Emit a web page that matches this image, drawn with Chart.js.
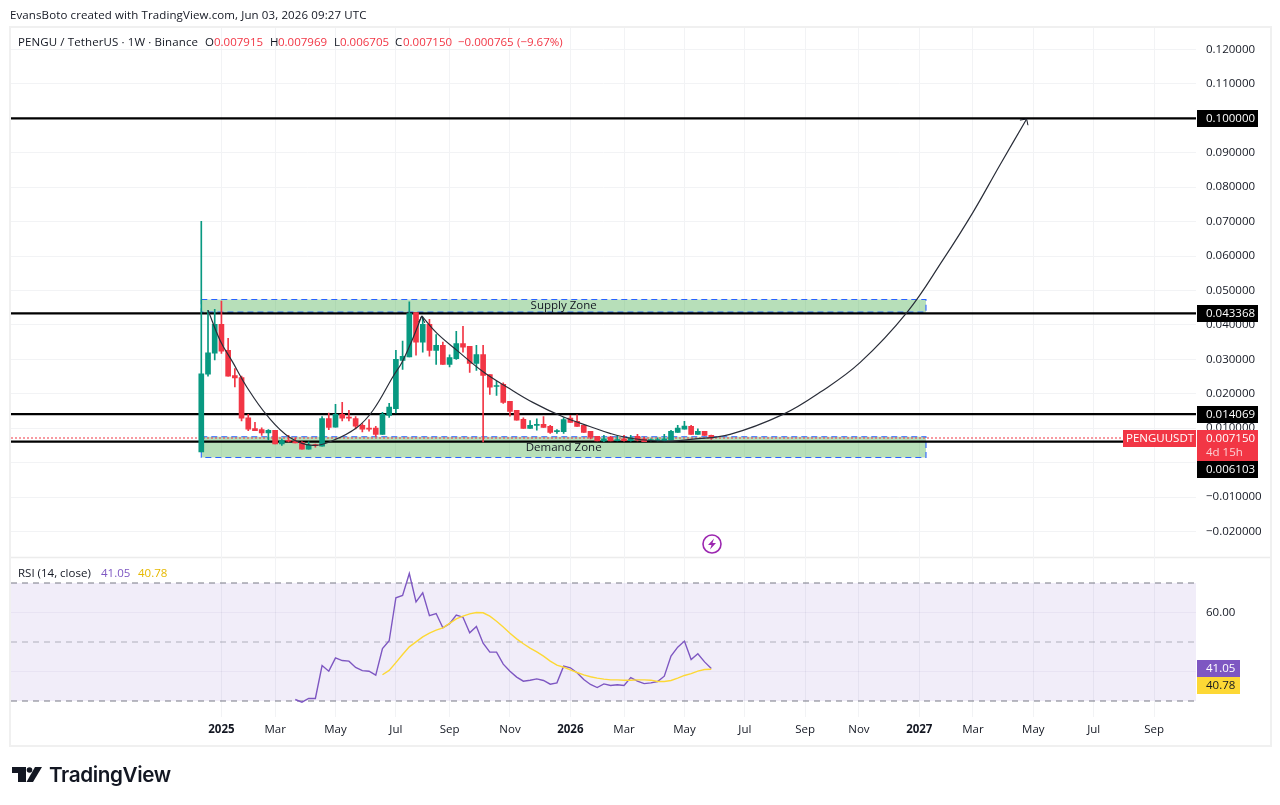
<!DOCTYPE html>
<html>
<head>
<meta charset="utf-8">
<title>PENGU / TetherUS</title>
<script src="https://cdn.jsdelivr.net/npm/chart.js@4/dist/chart.umd.min.js"></script>
<style>
  html, body { margin: 0; padding: 0; background: #fff; overflow: hidden; }
  body { width: 1280px; height: 805px; position: relative; font-family: "Open Sans", sans-serif; color: #131722; }
  canvas { position: absolute; left: 0; top: 0; }
  #frame { position: absolute; left: 9px; top: 26px; width: 1259px; height: 717px; border: 2px solid #f0f0f0; pointer-events: none; }
  .t { position: absolute; white-space: nowrap; font-size: 11.5px; line-height: 14px; }
  .wide { letter-spacing: 0.11px; }
  .red { color: #f23645; }
  #logoText { position: absolute; left: 49px; top: 761px; font-family: Inter, sans-serif; font-weight: 600; font-size: 20.7px; line-height: 28px; color: #131722; letter-spacing: -0.4px; }
</style>
</head>
<body>
<canvas id="chart" width="1280" height="805"></canvas>
<div id="frame"></div>
<div class="t wide" style="left:10px;top:8px">EvansBoto created with TradingView.com, Jun 03, 2026 09:27 UTC</div>
<div class="t wide" style="left:18px;top:35px">PENGU / TetherUS · 1W · Binance</div>
<div class="t" style="left:205px;top:35px">O</div><div class="t red" style="left:214px;top:35px">0.007915</div>
<div class="t" style="left:270px;top:35px">H</div><div class="t red" style="left:278px;top:35px">0.007969</div>
<div class="t" style="left:334px;top:35px">L</div><div class="t red" style="left:340px;top:35px">0.006705</div>
<div class="t" style="left:395px;top:35px">C</div><div class="t red" style="left:403px;top:35px">0.007150</div>
<div class="t red" style="left:458px;top:35px">−0.000765</div>
<div class="t red" style="left:517px;top:35px">(−9.67%)</div>
<div class="t" style="left:18px;top:566px">RSI (14, close)</div>
<div class="t" style="left:101px;top:566px;color:#7e57c2">41.05</div>
<div class="t" style="left:138px;top:566px;color:#e6b800">40.78</div>
<svg style="position:absolute;left:701px;top:533px" width="22" height="22" viewBox="0 0 22 22">
  <circle cx="11" cy="11" r="9" fill="none" stroke="#9c27b0" stroke-width="1.6"/>
  <path d="M13 5.5 L7 12 H10.5 L9 16.5 L15 10 H11.5 Z" fill="#9c27b0"/>
</svg>
<svg style="position:absolute;left:12px;top:767px" width="31" height="15" viewBox="0 0 31 15">
  <path d="M0 0 H14 V15 H6 V6 H0 Z" fill="#131722"/>
  <circle cx="17.5" cy="3" r="2.8" fill="#131722"/>
  <path d="M23 0 H30 L21 15 H14.5 Z" fill="#131722"/>
</svg>
<div id="logoText">TradingView</div>
<script>
const uiFont = '"Open Sans", sans-serif';
const green = '#089981';
const red = '#f23645';

const opens = [0.0031,0.0257,0.0318,0.0402,0.0326,0.0253,0.0247,0.0130,0.0099,0.0096,0.0086,0.0094,0.0054,0.0064,0.0061,0.0059,0.0039,0.0052,0.0048,0.0128,
  0.0103,0.0140,0.0132,0.0128,0.0108,0.0100,0.0100,0.0082,0.0137,0.0157,0.0297,0.0307,0.0436,0.0350,0.0402,0.0326,0.0341,0.0285,0.0302,0.0346,
  0.0338,0.0288,0.0314,0.0256,0.0221,0.0227,0.0178,0.0152,0.0126,0.0099,0.0108,0.0111,0.0105,0.0090,0.0090,0.0129,0.0120,0.0108,0.0091,0.0076,
  0.0063,0.0074,0.0064,0.0069,0.0064,0.0076,0.0069,0.0064,0.0064,0.0064,0.0066,0.0088,0.0097,0.0105,0.0082,0.0091,0.007915];
const highs = [0.0701,0.0442,0.0445,0.0469,0.0361,0.0273,0.0251,0.0140,0.0117,0.0101,0.0096,0.0094,0.0069,0.0079,0.0072,0.0061,0.0060,0.0054,0.0134,0.0144,
  0.0169,0.0175,0.0152,0.0134,0.0113,0.0125,0.0105,0.0146,0.0172,0.0326,0.0353,0.0467,0.0436,0.0423,0.0416,0.0372,0.0350,0.0313,0.0381,0.0396,
  0.0338,0.0341,0.0341,0.0256,0.0236,0.0232,0.0178,0.0152,0.0130,0.0122,0.0127,0.0134,0.0108,0.0096,0.0131,0.0137,0.0139,0.0108,0.0091,0.0076,
  0.0079,0.0076,0.0077,0.0079,0.0079,0.0082,0.0074,0.0069,0.0072,0.0082,0.0094,0.0108,0.0120,0.0108,0.0098,0.0091,0.007969];
const lows = [0.0031,0.0251,0.0298,0.0317,0.0251,0.0220,0.0121,0.0093,0.0093,0.0079,0.0066,0.0054,0.0050,0.0060,0.0057,0.0039,0.0039,0.0045,0.0048,0.0096,
  0.0103,0.0121,0.0121,0.0098,0.0089,0.0091,0.0076,0.0082,0.0131,0.0144,0.0271,0.0307,0.0312,0.0321,0.0309,0.0285,0.0285,0.0278,0.0300,0.0321,
  0.0262,0.0268,0.0060,0.0198,0.0195,0.0172,0.0135,0.0123,0.0099,0.0099,0.0094,0.0102,0.0085,0.0085,0.0085,0.0117,0.0105,0.0088,0.0069,0.0063,
  0.0061,0.0063,0.0063,0.0062,0.0062,0.0063,0.0061,0.0063,0.0063,0.0063,0.0066,0.0088,0.0097,0.0082,0.0082,0.0079,0.006705];
const closes = [0.0258,0.0319,0.0402,0.0324,0.0251,0.0246,0.0129,0.0097,0.0093,0.0086,0.0094,0.0054,0.0064,0.0062,0.0057,0.0039,0.0050,0.0049,0.0128,0.0102,
  0.0140,0.0129,0.0129,0.0106,0.0097,0.0097,0.0082,0.0140,0.0161,0.0300,0.0309,0.0433,0.0350,0.0402,0.0326,0.0341,0.0285,0.0305,0.0346,0.0335,
  0.0288,0.0314,0.0253,0.0219,0.0224,0.0175,0.0149,0.0123,0.0099,0.0108,0.0111,0.0102,0.0088,0.0093,0.0125,0.0117,0.0105,0.0088,0.0074,0.0063,
  0.0069,0.0063,0.0067,0.0064,0.0072,0.0066,0.0061,0.0066,0.0066,0.0069,0.0091,0.0100,0.0106,0.0082,0.0091,0.0079,0.00715];

const rsiStart = 14;
const rsiValues = [30.5,29.6,30.85,30.85,42.0,40.1,44.6,43.7,43.5,41.35,40.3,40.1,38.75,47.8,50.4,65.0,65.75,73.2,63.6,66.65,
  58.9,59.65,54.8,56.2,59.1,58.4,53.1,55.25,49.6,46.55,46.55,42.5,40.1,38.1,36.7,37.05,37.5,36.95,35.7,36.15,
  41.8,41.25,39.55,37.3,35.6,34.55,35.8,35.25,35.5,35.25,37.95,36.7,35.9,36.15,36.6,38.4,45.2,48.25,50.3,44.05,46,43.25,41.05];
const maStart = 27;
const maValues = [38.9,40.35,43.0,45.75,48.35,50.05,51.75,53,54,54.8,56.3,57.85,58.75,59.55,60,59.9,58.75,57.05,55.1,52.95,
  51.05,49.4,47.9,46.65,45.2,43.5,42.15,41.45,40.55,39.65,38.85,38.2,37.75,37.4,37.15,37.15,37.05,37.05,37.15,37.15,
  37.05,36.6,36.6,36.95,37.75,38.65,39.3,40.1,40.65,40.78];

const cupWeeks = [1.0,2.8,4.7,6.8,9.8,13.2,16.6,19.6,23.2,25.6,28.6,29.9,31.4,32.85];
const cupPrices = [0.0443,0.0355,0.0291,0.0219,0.0137,0.0073,0.0050,0.0064,0.0102,0.0152,0.0251,0.0291,0.0355,0.0426];
const arcWeeks = [32.85,35.1,38.1,42.0,45.6,49.4,53.9,57.9,60.9,64.3,69.4,73.3,78.8,86.7,92.2,98.2,105.2,110.5,115,119,123];
const arcPrices = [0.0426,0.0376,0.0326,0.0264,0.0219,0.0175,0.0133,0.0105,0.0085,0.0070,0.0062,0.0068,0.0082,0.0140,0.0204,0.0291,0.0437,0.0588,0.0727,0.0864,0.0998];
const headOneWeeks = [32.4,32.85,33.3];
const headOnePrices = [0.0408,0.0426,0.0406];
const headTwoWeeks = [122,123,123.2];
const headTwoPrices = [0.0995,0.0998,0.0980];

const levels = [0.1,0.043368,0.014069,0.006103];
const lastPrice = 0.00715;
const supplyZone = [0.0474,0.0437];
const demandZone = [0.0075,0.0015];
const zoneWeeks = [0,108];
const labelWeek = 54;

const priceTicks = [-0.02,-0.01,0,0.01,0.02,0.03,0.04,0.05,0.06,0.07,0.08,0.09,0.1,0.11,0.12];
const rsiTicks = [40,60];
const rsiBands = [70,50,30];
const timeWeeks = [3,11,20,29,37,46,55,63,72,81,90,98,107,115,124,133,142];
const timeLabels = ['2025','Mar','May','Jul','Sep','Nov','2026','Mar','May','Jul','Sep','Nov','2027','Mar','May','Jul','Sep'];
const weekMin = -28.36;
const weekMax = 148.24;

function pts(xs, ys) {
  return xs.map((x, i) => ({x: x, y: ys[i]}));
}

function lineSet(data, axis, color, width, order, extra) {
  return Object.assign({
    type: 'line',
    data: data,
    yAxisID: axis,
    borderColor: color,
    borderWidth: width,
    pointRadius: 0,
    fill: false,
    order: order
  }, extra || {});
}

function zoneSets(zone) {
  const [top, bottom] = zone;
  const [a, b] = zoneWeeks;
  const fillColor = 'rgba(76,175,80,0.4)';
  return [
    lineSet(pts(zoneWeeks, [top, top]), 'y', 'transparent', 0, 8, {fill: '+1', backgroundColor: fillColor}),
    lineSet(pts(zoneWeeks, [bottom, bottom]), 'y', 'transparent', 0, 8),
    lineSet(pts([a, b, b, a, a], [top, top, bottom, bottom, top]), 'y', '#2962ff', 1.1, 7, {borderDash: [6, 4]})
  ];
}

const weekIndex = opens.map((_, i) => i);
const wickData = weekIndex.map(i => ({x: i, y: [lows[i], highs[i]]}));
const bodyData = weekIndex.map(i => ({x: i, y: [Math.min(opens[i], closes[i]), Math.max(opens[i], closes[i])]}));
const candleColors = weekIndex.map(i => closes[i] >= opens[i] ? green : red);

const datasets = [
  ...levels.map(v => lineSet(pts([weekMin, weekMax], [v, v]), 'y', '#000000', 2.2, 5)),
  lineSet(pts([weekMin, weekMax], [lastPrice, lastPrice]), 'y', red, 1.2, 4, {borderDash: [2, 2]}),
  ...zoneSets(supplyZone),
  ...zoneSets(demandZone),
  {type: 'bar', data: wickData, yAxisID: 'y', backgroundColor: candleColors, barThickness: 1, grouped: false, order: 3},
  {type: 'bar', data: bodyData, yAxisID: 'y', backgroundColor: candleColors, barThickness: 5, grouped: false, minBarLength: 1, order: 2},
  lineSet(pts(cupWeeks, cupPrices), 'y', '#2a2e39', 1.2, 1, {tension: 0.4}),
  lineSet(pts(arcWeeks, arcPrices), 'y', '#2a2e39', 1.2, 1, {tension: 0.4}),
  lineSet(pts(headOneWeeks, headOnePrices), 'y', '#131722', 1, 1),
  lineSet(pts(headTwoWeeks, headTwoPrices), 'y', '#131722', 1, 1),

  lineSet(pts([weekMin, weekMax], [70, 70]), 'rsi', 'transparent', 0, 9, {fill: '+1', backgroundColor: 'rgba(126,87,194,0.105)'}),
  lineSet(pts([weekMin, weekMax], [30, 30]), 'rsi', 'transparent', 0, 9),
  ...rsiBands.map(v => lineSet(pts([weekMin, weekMax], [v, v]), 'rsi', v === 50 ? 'rgba(120,123,134,0.55)' : '#787b86', 1.2, 6, {borderDash: [6, 5]})),
  lineSet(rsiValues.map((v, i) => ({x: rsiStart + i, y: v})), 'rsi', '#7e57c2', 1.4, 1),
  lineSet(maValues.map((v, i) => ({x: maStart + i, y: v})), 'rsi', '#fdd835', 1.4, 0)
];

function tag(ctx, x, y, w, h, bg, fg, text, pad) {
  ctx.fillStyle = bg;
  ctx.fillRect(x, y, w, h);
  ctx.fillStyle = fg;
  ctx.font = '11.5px ' + uiFont;
  ctx.textAlign = 'left';
  ctx.textBaseline = 'middle';
  ctx.fillText(text, x + (pad === undefined ? 9 : pad), y + 9);
}

// pane separator, then the price tags and zone captions on top of everything
const overlay = {
  id: 'overlay',
  beforeDraw(chart) {
    const ctx = chart.ctx;
    const y = chart.scales.y.bottom;
    ctx.save();
    ctx.strokeStyle = '#ececec';
    ctx.lineWidth = 1.5;
    ctx.beginPath();
    ctx.moveTo(10, y);
    ctx.lineTo(1270, y);
    ctx.stroke();
    ctx.restore();
  },
  afterDraw(chart) {
    const ctx = chart.ctx;
    const py = chart.scales.y;
    const ry = chart.scales.rsi;
    const px = chart.scales.x;
    const left = py.left + 1;
    ctx.save();
    [0.1, 0.043368, 0.014069].forEach(v => {
      tag(ctx, left, Math.round(py.getPixelForValue(v)) - 8, 61, 17, '#000000', '#ffffff', v.toFixed(6));
    });
    const last = Math.round(py.getPixelForValue(lastPrice));
    tag(ctx, left, last - 8, 61, 31, red, '#ffffff', lastPrice.toFixed(6));
    ctx.fillStyle = '#fbd0d4';
    ctx.fillText('4d 15h', left + 9, last + 15);
    tag(ctx, left - 74, last - 8, 73, 17, red, '#ffffff', 'PENGUUSDT', 3);
    tag(ctx, left, last + 23, 61, 17, '#000000', '#ffffff', levels[3].toFixed(6));

    const r = Math.round(ry.getPixelForValue(rsiValues[rsiValues.length - 1]));
    tag(ctx, left, r - 8, 43, 17, '#7e57c2', '#ffffff', '41.05');
    tag(ctx, left, r + 9, 43, 17, '#fdd835', '#131722', '40.78');

    ctx.fillStyle = '#131722';
    ctx.font = '11.5px ' + uiFont;
    ctx.textAlign = 'center';
    ctx.textBaseline = 'middle';
    ctx.fillText('Supply Zone', px.getPixelForValue(labelWeek), py.getPixelForValue((supplyZone[0] + supplyZone[1]) / 2));
    ctx.fillText('Demand Zone', px.getPixelForValue(labelWeek), py.getPixelForValue(0.0044));
    ctx.restore();
  }
};

const gridColor = '#f2f3f5';

new Chart(document.getElementById('chart'), {
  type: 'bar',
  data: {datasets: datasets},
  plugins: [overlay],
  options: {
    responsive: false,
    animation: false,
    events: [],
    devicePixelRatio: 1,
    layout: {padding: {left: 11, right: 10, top: 27, bottom: 60}},
    plugins: {legend: {display: false}, title: {display: false}, tooltip: {enabled: false}},
    scales: {
      x: {
        type: 'linear',
        offset: false,
        min: weekMin,
        max: weekMax,
        afterBuildTicks: s => { s.ticks = timeWeeks.map(v => ({value: v})); },
        afterFit: s => { s.height = 28; },
        border: {display: false},
        grid: {color: gridColor, drawTicks: false, offset: false},
        ticks: {
          autoSkip: false,
          maxRotation: 0,
          padding: 6,
          color: '#131722',
          callback: (v, i) => timeLabels[i],
          font: c => ({family: uiFont, size: 11.5, weight: (c.tick && /^20/.test(c.tick.label)) ? '700' : '400'})
        }
      },
      y: {
        position: 'right',
        stack: 'panes',
        stackWeight: 530.5,
        min: -0.02757,
        max: 0.12654,
        afterBuildTicks: s => { s.ticks = priceTicks.map(v => ({value: v})); },
        afterFit: s => { s.width = 74; },
        border: {display: false},
        grid: {color: gridColor, drawTicks: false},
        ticks: {
          padding: 10,
          color: '#131722',
          font: {family: uiFont, size: 11.5},
          callback: v => (v < 0 ? '−' : '') + Math.abs(v).toFixed(6)
        }
      },
      rsi: {
        position: 'right',
        stack: 'panes',
        stackWeight: 159.5,
        min: 24.57,
        max: 78.64,
        afterBuildTicks: s => { s.ticks = rsiTicks.map(v => ({value: v})); },
        afterFit: s => { s.width = 74; },
        border: {display: false},
        grid: {color: 'rgba(120,100,170,0.08)', drawTicks: false},
        ticks: {
          padding: 10,
          color: '#131722',
          font: {family: uiFont, size: 11.5},
          callback: v => v.toFixed(2)
        }
      }
    }
  }
});
</script>
</body>
</html>
